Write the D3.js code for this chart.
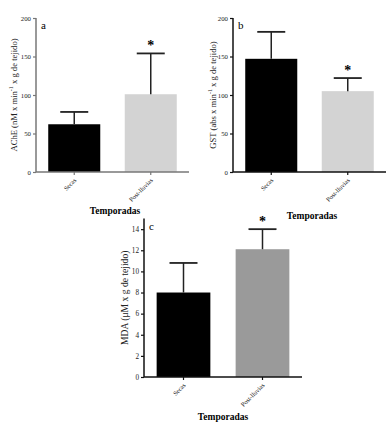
<!DOCTYPE html>
<html><head><meta charset="utf-8">
<script src="https://cdn.jsdelivr.net/npm/d3@7"></script>
<style>
body{margin:0;background:#fff;}
svg text{font-family:"Liberation Serif",serif;}
</style></head>
<body><svg id="c" width="387" height="424"></svg>
<script>
const categories = ["Secas", "Post-lluvias"];
const acheMean = [62, 101];
const acheErr = [16, 53];
const gstMean = [147, 105];
const gstErr = [35, 17];
const mdaMean = [8.0, 12.1];
const mdaErr = [2.8, 1.9];
const ticks200 = [0, 50, 100, 150, 200];
const ticks14 = [0, 2, 4, 6, 8, 10, 12, 14];

const FONT = "Liberation Serif";
const svg = d3.select("#c");

function panel(o) {
  const g = svg.append("g").attr("font-family", FONT);
  const x = d3.scaleBand().domain(categories).range([o.x0, o.x1]).paddingInner(0.32).paddingOuter(0.16);
  const y = d3.scaleLinear().domain([0, o.ymax]).range([o.yb, o.yt]);
  g.selectAll("rect").data(categories).enter().append("rect")
    .attr("x", d => x(d)).attr("width", x.bandwidth())
    .attr("y", (d, i) => y(o.mean[i])).attr("height", (d, i) => y(0) - y(o.mean[i]))
    .attr("fill", (d, i) => o.colors[i]);
  categories.forEach((d, i) => {
    const cx = x(d) + x.bandwidth() / 2;
    const top = y(o.mean[i] + o.err[i]);
    g.append("line").attr("x1", cx).attr("x2", cx).attr("y1", y(o.mean[i])).attr("y2", top)
      .attr("stroke", "#222").attr("stroke-width", 1.5);
    g.append("line").attr("x1", cx - 14).attr("x2", cx + 14).attr("y1", top).attr("y2", top)
      .attr("stroke", "#222").attr("stroke-width", 1.8);
    if (o.star[i]) {
      g.append("text").attr("x", cx).attr("y", top - 3).attr("text-anchor", "middle")
        .attr("font-size", 14).attr("font-weight", "bold").text("*");
    }
  });
  const ya = g.append("g").attr("transform", `translate(${o.x0},0)`)
    .call(d3.axisLeft(y).tickValues(o.ticks).tickSize(3).tickPadding(2).tickFormat(d3.format("d")));
  ya.attr("font-family", FONT);
  ya.select(".domain").attr("d", `M0,${o.yb}V${y(o.ymaxLine)}`).attr("stroke", o.axisColor).attr("stroke-width", 1.5);
  ya.selectAll(".tick line").attr("stroke", o.axisColor).attr("stroke-width", 1.2);
  ya.selectAll(".tick text").attr("font-size", o.tickFs).attr("fill", "#222");
  const xa = g.append("g").attr("transform", `translate(0,${o.yb})`)
    .call(d3.axisBottom(x).tickSize(3).tickSizeOuter(0));
  xa.attr("font-family", FONT);
  xa.select(".domain").attr("d", `M${o.x0},0H${o.x1}`).attr("stroke", o.axisColor).attr("stroke-width", 1.5);
  xa.selectAll(".tick line").attr("stroke", o.axisColor).attr("stroke-width", 1.2);
  xa.selectAll(".tick text").attr("font-size", 6.5).attr("fill", "#222")
    .attr("text-anchor", "end").attr("y", 0).attr("x", 0).attr("dy", "0.35em")
    .attr("transform", "translate(1,7) rotate(-45)");
  g.append("text").attr("x", o.x0 + 5).attr("y", o.yt + 11).attr("font-size", 11).text(o.letter);
  const yt = g.append("text").attr("transform", `translate(${o.titleX},${(o.yb + o.yt) / 2}) rotate(-90)`)
    .attr("text-anchor", "middle").attr("font-size", o.titleFs).attr("fill", "#222");
  o.ytitle.forEach(p => {
    const t = yt.append("tspan").text(p.t);
    if (p.sup) t.attr("font-size", 6).attr("dy", -4);
    if (p.down) t.attr("dy", 4);
  });
  g.append("text").attr("x", o.xtX).attr("y", o.xtY).attr("text-anchor", "middle")
    .attr("font-size", 9.5).attr("font-weight", "bold").text("Temporadas");
}

panel({x0: 36, x1: 189, yb: 172, yt: 18, ymax: 200, ymaxLine: 200, ticks: ticks200,
  mean: acheMean, err: acheErr, colors: ["#000", "#d3d3d3"], star: [false, true],
  axisColor: "#777", letter: "a", titleX: 17, titleFs: 8.6, tickFs: 6.8,
  ytitle: [{t: "AChE (nM x min"}, {t: "-1", sup: true}, {t: " x g de tejido)", down: true}],
  xtX: 115, xtY: 214});

panel({x0: 233, x1: 386, yb: 172, yt: 18, ymax: 200, ymaxLine: 200, ticks: ticks200,
  mean: gstMean, err: gstErr, colors: ["#000", "#d3d3d3"], star: [false, true],
  axisColor: "#111", letter: "b", titleX: 216, titleFs: 8.6, tickFs: 6.8,
  ytitle: [{t: "GST (abs x min"}, {t: "-1", sup: true}, {t: " x g de tejido)", down: true}],
  xtX: 312, xtY: 219});

panel({x0: 144, x1: 302, yb: 377, yt: 218.6, ymax: 15, ymaxLine: 15, ticks: ticks14,
  mean: mdaMean, err: mdaErr, colors: ["#000", "#9a9a9a"], star: [false, true],
  axisColor: "#111", letter: "c", titleX: 128, titleFs: 9.6, tickFs: 7.2,
  ytitle: [{t: "MDA (\u03bcM x g de tejido)"}],
  xtX: 223, xtY: 420});
</script></body></html>
